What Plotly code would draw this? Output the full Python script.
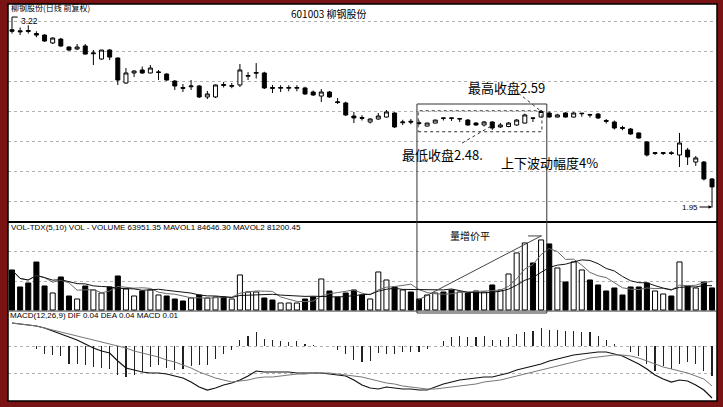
import plotly.graph_objects as go
import pandas as pd

# ---------------- data ----------------
open_ = [3.135, 3.128, 3.13, 3.11, 3.10, 3.047, 3.073, 3.02, 3.007, 3.027,
         2.975, 2.94, 3.00, 2.947, 2.78, 2.847, 2.867, 2.847, 2.85, 2.84,
         2.793, 2.75, 2.755, 2.76, 2.687, 2.687, 2.77, 2.758, 2.767, 2.825,
         2.845, 2.847, 2.75, 2.745, 2.745, 2.745, 2.747, 2.72, 2.693, 2.72,
         2.655, 2.647, 2.56, 2.55, 2.52, 2.54, 2.553, 2.58, 2.515, 2.525,
         2.515, 2.493, 2.513, 2.547, 2.547, 2.54, 2.533, 2.513, 2.50, 2.52,
         2.487, 2.49, 2.50, 2.513, 2.547, 2.553, 2.58, 2.553, 2.58, 2.553,
         2.575, 2.57, 2.573, 2.53, 2.52, 2.483, 2.473, 2.447, 2.387, 2.31,
         2.31, 2.315, 2.30, 2.333, 2.253, 2.253, 2.14]
high = [3.22, 3.15, 3.165, 3.125, 3.105, 3.085, 3.08, 3.025, 3.04, 3.04,
        3.00, 3.00, 3.005, 2.95, 2.88, 2.865, 2.89, 2.90, 2.867, 2.845,
        2.80, 2.773, 2.80, 2.767, 2.727, 2.77, 2.787, 2.78, 2.907, 2.853,
        2.913, 2.855, 2.767, 2.765, 2.765, 2.765, 2.755, 2.73, 2.74, 2.727,
        2.68, 2.655, 2.587, 2.565, 2.545, 2.58, 2.60, 2.585, 2.535, 2.54,
        2.53, 2.515, 2.535, 2.55, 2.55, 2.545, 2.54, 2.52, 2.527, 2.525,
        2.513, 2.52, 2.54, 2.575, 2.55, 2.60, 2.59, 2.575, 2.585, 2.585,
        2.58, 2.575, 2.58, 2.54, 2.53, 2.495, 2.48, 2.45, 2.393, 2.32,
        2.32, 2.325, 2.447, 2.347, 2.293, 2.26, 2.145]
low = [3.11, 3.10, 3.11, 3.085, 3.055, 3.04, 3.02, 2.995, 3.00, 2.97,
       2.90, 2.935, 2.933, 2.767, 2.775, 2.82, 2.84, 2.845, 2.80, 2.795,
       2.733, 2.72, 2.733, 2.68, 2.673, 2.68, 2.75, 2.745, 2.753, 2.80,
       2.81, 2.74, 2.713, 2.72, 2.725, 2.725, 2.70, 2.695, 2.653, 2.68,
       2.64, 2.56, 2.513, 2.53, 2.51, 2.535, 2.55, 2.48, 2.50, 2.505,
       2.50, 2.49, 2.51, 2.53, 2.527, 2.52, 2.495, 2.495, 2.49, 2.467,
       2.48, 2.485, 2.495, 2.51, 2.52, 2.55, 2.55, 2.55, 2.55, 2.55,
       2.555, 2.55, 2.54, 2.51, 2.47, 2.465, 2.435, 2.41, 2.29, 2.30,
       2.30, 2.30, 2.22, 2.233, 2.227, 2.13, 1.95]
close = [3.125, 3.122, 3.125, 3.10, 3.06, 3.08, 3.027, 3.00, 3.02, 2.973,
         2.98, 3.00, 2.953, 2.80, 2.847, 2.86, 2.847, 2.88, 2.853, 2.80,
         2.76, 2.745, 2.76, 2.687, 2.707, 2.767, 2.765, 2.762, 2.867, 2.83,
         2.85, 2.747, 2.745, 2.75, 2.75, 2.75, 2.707, 2.70, 2.72, 2.687,
         2.65, 2.567, 2.547, 2.545, 2.54, 2.56, 2.587, 2.487, 2.52, 2.52,
         2.51, 2.513, 2.533, 2.545, 2.545, 2.542, 2.50, 2.50, 2.52, 2.48,
         2.50, 2.513, 2.533, 2.567, 2.545, 2.59, 2.553, 2.567, 2.553, 2.58,
         2.578, 2.567, 2.547, 2.525, 2.48, 2.478, 2.44, 2.413, 2.30, 2.315,
         2.315, 2.31, 2.38, 2.287, 2.28, 2.14, 2.087]
volume = [116000, 66700, 78300, 139000, 69600, 49300, 95700, 40600, 31900, 69600,
          58000, 49300, 66700, 98600, 60900, 40600, 55100, 58000, 43500, 40600,
          31900, 26100, 34800, 43500, 34800, 37700, 37700, 31900, 101500, 52200,
          52200, 34800, 29000, 20300, 20300, 20300, 31900, 37700, 89900, 55100,
          37700, 49300, 58000, 43500, 31900, 110200, 87000, 66700, 58000, 52200,
          31900, 43500, 49300, 52200, 58000, 52200, 49300, 55100, 52200, 72500,
          58000, 104400, 165300, 194300, 136300, 203000, 191400, 121800, 81200, 139200,
          116000, 87000, 72500, 55100, 63800, 43500, 66700, 66700, 78300, 55100,
          46400, 40600, 139200, 69600, 63800, 81200, 63951.35]
dif = [0.046, 0.044, 0.042, 0.040, 0.036, 0.030, 0.024, 0.018, 0.012, 0.004,
       -0.004, -0.010, -0.014, -0.030, -0.044, -0.048, -0.052, -0.054, -0.054, -0.056,
       -0.060, -0.064, -0.072, -0.082, -0.088, -0.084, -0.078, -0.074, -0.068, -0.060,
       -0.050, -0.052, -0.052, -0.052, -0.052, -0.054, -0.054, -0.054, -0.054, -0.056,
       -0.058, -0.060, -0.068, -0.078, -0.084, -0.086, -0.082, -0.084, -0.086, -0.086,
       -0.088, -0.088, -0.082, -0.076, -0.072, -0.068, -0.066, -0.064, -0.062, -0.062,
       -0.058, -0.054, -0.048, -0.044, -0.040, -0.036, -0.030, -0.026, -0.022, -0.018,
       -0.016, -0.014, -0.012, -0.012, -0.016, -0.020, -0.028, -0.036, -0.046, -0.058,
       -0.066, -0.072, -0.068, -0.070, -0.078, -0.088, -0.104]
dea = [0.046, 0.044, 0.042, 0.040, 0.036, 0.032, 0.028, 0.024, 0.020, 0.016,
       0.012, 0.008, 0.004, 0.000, -0.004, -0.010, -0.014, -0.018, -0.022, -0.028,
       -0.032, -0.038, -0.044, -0.052, -0.058, -0.064, -0.068, -0.072, -0.070, -0.068,
       -0.064, -0.062, -0.062, -0.060, -0.058, -0.056, -0.056, -0.054, -0.054, -0.054,
       -0.056, -0.058, -0.060, -0.062, -0.066, -0.070, -0.074, -0.076, -0.080, -0.082,
       -0.084, -0.086, -0.086, -0.084, -0.082, -0.080, -0.078, -0.076, -0.072, -0.070,
       -0.068, -0.064, -0.060, -0.056, -0.052, -0.048, -0.044, -0.040, -0.036, -0.032,
       -0.028, -0.024, -0.022, -0.020, -0.018, -0.018, -0.020, -0.024, -0.030, -0.036,
       -0.042, -0.046, -0.050, -0.054, -0.060, -0.066, -0.080]
macd = [0, 0, 0, -0.005, -0.015, -0.017, -0.020, -0.036, -0.036, -0.038,
        -0.041, -0.043, -0.045, -0.058, -0.061, -0.058, -0.051, -0.041, -0.038, -0.043,
        -0.048, -0.045, -0.040, -0.038, -0.038, -0.025, -0.015, -0.007, 0.013, 0.020,
        0.029, 0.015, 0.012, 0.010, 0.008, 0.010, 0.004, 0.002, 0.0, 0.0,
        -0.007, -0.015, -0.027, -0.031, -0.029, -0.013, -0.015, -0.015, -0.012, -0.011,
        -0.011, -0.005, 0.001, 0.011, 0.018, 0.021, 0.018, 0.018, 0.021, 0.013,
        0.013, 0.018, 0.025, 0.029, 0.031, 0.036, 0.033, 0.033, 0.031, 0.031,
        0.029, 0.028, 0.021, 0.013, 0.005, 0.0, -0.012, -0.019, -0.035, -0.049,
        -0.039, -0.045, -0.035, -0.032, -0.035, -0.049, -0.059]

title_text = "601003 柳钢股份"
corner_text = "柳钢股份(日线 前复权)"
vol_header = "VOL-TDX(5,10) VOL - VOLUME 63951.35 MAVOL1 84646.30 MAVOL2 81200.45"
macd_header = "MACD(12,26,9) DIF 0.04 DEA 0.04 MACD 0.01"
max_label = "3.22"
min_label = "1.95"
hi_note = "最高收盘2.59"
lo_note = "最低收盘2.48."
range_note = "上下波动幅度4%"
vol_note = "量增价平"

# ---------------- layout helpers ----------------
W, H = 723, 407
ML, MR, MT, MB = 8, 6, 4, 6
PW, PH = W - ML - MR, H - MT - MB


def px(xp):
    return (xp - ML) / PW


def py(yp):
    return (H - MB - yp) / PH


n = len(close)
idx = list(range(n))
vol_s = pd.Series(volume)
mavol1 = vol_s.rolling(5, min_periods=1).mean()
mavol2 = vol_s.rolling(10, min_periods=1).mean()
vol_colors = ["white" if c >= o else "black" for o, c in zip(open_, close)]

CJK = "Noto Sans CJK SC"
fig = go.Figure()

fig.add_trace(go.Candlestick(
    x=idx, open=open_, high=high, low=low, close=close,
    increasing=dict(line=dict(color="black", width=1), fillcolor="white"),
    decreasing=dict(line=dict(color="black", width=1), fillcolor="black"),
    whiskerwidth=0, xaxis="x", yaxis="y", hoverinfo="skip", showlegend=False))

fig.add_trace(go.Bar(
    x=idx, y=volume, width=0.62, marker=dict(color=vol_colors, line=dict(color="black", width=1)),
    xaxis="x", yaxis="y2", showlegend=False, hoverinfo="skip"))
fig.add_trace(go.Scatter(x=idx, y=mavol1, mode="lines", line=dict(color="#6a6a6a", width=1),
                         xaxis="x", yaxis="y2", showlegend=False, hoverinfo="skip"))
fig.add_trace(go.Scatter(x=idx, y=mavol2, mode="lines", line=dict(color="#111111", width=1),
                         xaxis="x", yaxis="y2", showlegend=False, hoverinfo="skip"))

fig.add_trace(go.Bar(
    x=idx, y=macd, width=0.14, marker=dict(color="#222222", line=dict(width=0)),
    xaxis="x", yaxis="y3", showlegend=False, hoverinfo="skip"))
fig.add_trace(go.Scatter(x=idx, y=dif, mode="lines", line=dict(color="#111111", width=1.2),
                         xaxis="x", yaxis="y3", showlegend=False, hoverinfo="skip"))
fig.add_trace(go.Scatter(x=idx, y=dea, mode="lines", line=dict(color="#777777", width=1),
                         xaxis="x", yaxis="y3", showlegend=False, hoverinfo="skip"))

grid = dict(showgrid=True, gridcolor="#b0b0b0", griddash="dot", gridwidth=1,
            showticklabels=False, zeroline=False, ticks="", showline=False)

fig.update_layout(
    width=W, height=H,
    margin=dict(l=ML, r=MR, t=MT, b=MB, pad=0),
    paper_bgcolor="#7a1414", plot_bgcolor="white",
    bargap=0, barmode="overlay",
    xaxis=dict(range=[-0.49, 86.61], showgrid=False, zeroline=False, showticklabels=False,
               ticks="", rangeslider=dict(visible=False), fixedrange=True),
    yaxis=dict(domain=[py(222), 1.0], range=[1.853, 3.307], tickmode="linear",
               tick0=1.987, dtick=0.2, **grid),
    yaxis2=dict(domain=[py(311), py(222)], range=[-2900, 255000], tickmode="linear",
                tick0=81200, dtick=87000, anchor="x", **grid),
    yaxis3=dict(domain=[0, py(311)], range=[-0.11, 0.07], tickmode="array",
                tickvals=[0, -0.054], anchor="x", **grid),
    font=dict(family="Liberation Sans", color="black"),
)

shapes = []
# frame and panel separators
shapes.append(dict(type="rect", xref="paper", yref="paper", x0=0, x1=1, y0=0, y1=1,
                   line=dict(color="black", width=1.5)))
shapes.append(dict(type="line", xref="paper", yref="paper", x0=0, x1=1, y0=py(222), y1=py(222),
                   line=dict(color="black", width=2)))
shapes.append(dict(type="line", xref="paper", yref="paper", x0=0, x1=1, y0=py(311), y1=py(311),
                   line=dict(color="#333333", width=1)))
# large box across price & volume panels
shapes.append(dict(type="rect", xref="x", yref="paper", x0=49.75, x1=65.7, y0=py(313), y1=py(104),
                   line=dict(color="#333333", width=1)))
# dotted box around the flat closes
shapes.append(dict(type="rect", xref="x", yref="y", x0=49.9, x1=65.1, y0=2.455, y1=2.595,
                   line=dict(color="#333333", width=1, dash="dot")))
# dotted pointer lines
shapes.append(dict(type="line", xref="x", yref="y", x0=62.2, y0=2.713, x1=64.8, y1=2.60,
                   line=dict(color="#333333", width=1, dash="dot")))
shapes.append(dict(type="line", xref="x", yref="y", x0=55.3, y0=2.38, x1=59.1, y1=2.50,
                   line=dict(color="#333333", width=1, dash="dot")))
# max price marker
shapes.append(dict(type="line", xref="x", yref="y", x0=0, y0=3.22, x1=0.7, y1=3.22,
                   line=dict(color="black", width=1)))
# volume annotation line
shapes.append(dict(type="line", xref="x", yref="y2", x0=49.9, y0=29000, x1=65.0, y1=214600,
                   line=dict(color="#444444", width=1)))
shapes.append(dict(type="line", xref="x", yref="y2", x0=63.4, y0=214600, x1=65.1, y1=214600,
                   line=dict(color="#444444", width=1)))
fig.update_layout(shapes=shapes)

ann = []


def txt(x, y, s, size, xanchor="left", family=CJK, xref="paper", yref="paper", color="black"):
    ann.append(dict(x=x, y=y, xref=xref, yref=yref, text=s, showarrow=False,
                    xanchor=xanchor, yanchor="middle",
                    font=dict(size=size, family=family, color=color)))


txt(px(9), py(7), corner_text, 8)
txt(px(329), py(13), title_text, 10, xanchor="center")
txt(0.9, 3.195, max_label, 8.5, xref="x", yref="y", family="Liberation Sans")
txt(px(9), py(227), vol_header, 8, family="Liberation Sans")
txt(px(8), py(315), macd_header, 8, family="Liberation Sans")
txt(60.8, 2.753, hi_note, 13, xanchor="center", xref="x", yref="y")
txt(52.9, 2.30, lo_note, 13, xanchor="center", xref="x", yref="y")
txt(66.0, 2.247, range_note, 13, xanchor="center", xref="x", yref="y")
txt(56.3, 214600, vol_note, 10, xanchor="center", xref="x", yref="y2")

ann.append(dict(x=86, y=1.953, xref="x", yref="y", text=min_label, showarrow=True,
                arrowhead=2, arrowsize=0.7, arrowwidth=1, arrowcolor="black",
                ax=-22, ay=0, font=dict(size=8, family="Liberation Sans", color="black")))
fig.update_layout(annotations=ann)

fig.write_html("out.html", config={"displayModeBar": False, "staticPlot": True},
               post_script="document.body.style.margin='0';document.body.style.padding='0';"
                           "document.body.style.overflow='hidden';")
